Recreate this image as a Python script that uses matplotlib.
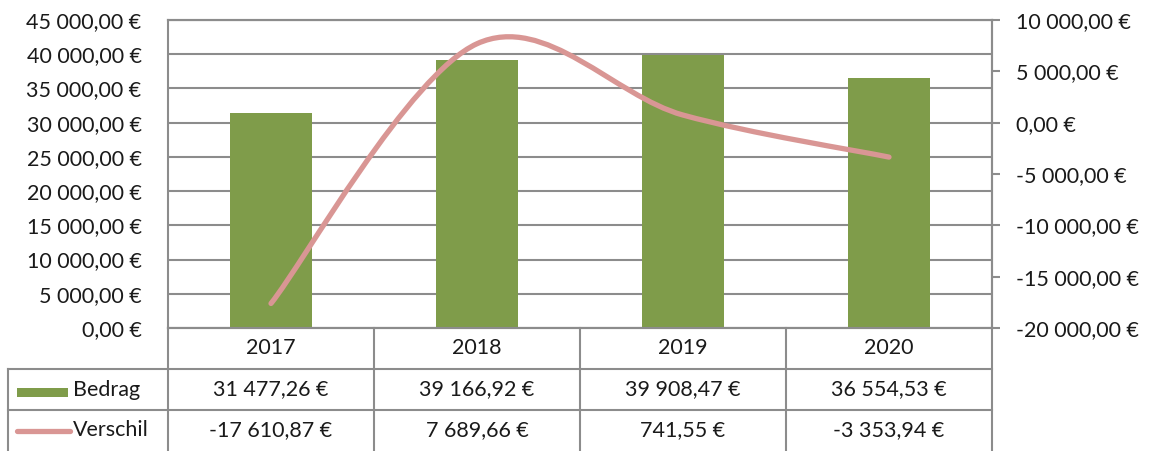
import matplotlib
matplotlib.use("Agg")
import matplotlib.pyplot as plt
from matplotlib.path import Path
from matplotlib.patches import PathPatch, Rectangle
from matplotlib.lines import Line2D
from matplotlib.ticker import FuncFormatter, MultipleLocator
from matplotlib.transforms import blended_transform_factory

# ---------- data ----------
years = ["2017", "2018", "2019", "2020"]
bedrag = [31477.26, 39166.92, 39908.47, 36554.53]
verschil = [-17610.87, 7689.66, 741.55, -3353.94]
row_labels = ["Bedrag", "Verschil"]

# ---------- style ----------
W, H = 1164, 451
GREEN = "#7f9c4a"
PINK = "#d99694"
GRID = "#8c8c8c"
TXT = "#1a1a1a"
FS = 15.5
plt.rcParams["font.family"] = ["Lato", "DejaVu Sans"]


def euro(v, pos=None):
    # 31477.26 -> "31 477,26 €"
    s = "{:,.2f}".format(abs(v)).replace(",", " ").replace(".", ",")
    return ("-" if v < 0 else "") + s + " €"


def fx(px):
    return px / W


def fy(py):
    return 1 - py / H


fig = plt.figure(figsize=(W / 100, H / 100), dpi=100)
ax = fig.add_axes([fx(168), fy(328), fx(992 - 168), (328 - 20) / H])
ax2 = ax.twinx()

x = list(range(len(years)))

# bars on the left axis
ax.bar(x, bedrag, width=0.4, color=GREEN, zorder=2)
ax.set_xlim(-0.5, len(years) - 0.5)
ax.set_ylim(0, 45000)
ax.yaxis.set_major_locator(MultipleLocator(5000))
ax.yaxis.set_major_formatter(FuncFormatter(euro))
ax.grid(axis="y", color=GRID, linewidth=1.5)
ax.set_axisbelow(True)
ax.set_xticks([])
ax.tick_params(axis="y", length=0, pad=19, labelsize=FS, labelcolor=TXT)

# smoothed line on the right axis (Excel style bezier through the points)
ax2.set_ylim(-20000, 10000)
ax2.yaxis.set_major_locator(MultipleLocator(5000))
ax2.yaxis.set_major_formatter(FuncFormatter(euro))
ax2.tick_params(axis="y", length=5.5, width=1.5, color=GRID, pad=12,
                labelsize=FS, labelcolor=TXT)
pts = list(zip(x, verschil))
verts = [pts[0]]
codes = [Path.MOVETO]
for i in range(len(pts) - 1):
    p0 = pts[max(i - 1, 0)]
    p1 = pts[i]
    p2 = pts[i + 1]
    p3 = pts[min(i + 2, len(pts) - 1)]
    c1 = (p1[0] + (p2[0] - p0[0]) / 6, p1[1] + (p2[1] - p0[1]) / 6)
    c2 = (p2[0] - (p3[0] - p1[0]) / 6, p2[1] - (p3[1] - p1[1]) / 6)
    verts += [c1, c2, p2]
    codes += [Path.CURVE4] * 3
ax2.add_patch(PathPatch(Path(verts, codes), facecolor="none", edgecolor=PINK,
                        linewidth=3.8, capstyle="round", zorder=3))

for a in (ax, ax2):
    for side, sp in a.spines.items():
        sp.set_color(GRID)
        sp.set_linewidth(1.5)
ax2.spines["left"].set_visible(False)

# ---------- data table ----------
colx = blended_transform_factory(ax.transData, fig.transFigure)
rows_y = [328, 369, 410, 451]
table_left = 8


def fline(x0, y0, x1, y1):
    fig.add_artist(Line2D([fx(x0), fx(x1)], [fy(y0), fy(y1)], color=GRID,
                          linewidth=1.5, transform=fig.transFigure))


for yy in rows_y[1:3]:
    fline(table_left, yy, 992, yy)
fline(table_left, rows_y[1], table_left, rows_y[3])
for i in range(len(years) + 1):
    fig.add_artist(Line2D([i - 0.5, i - 0.5], [fy(rows_y[0]), fy(rows_y[3])],
                          color=GRID, linewidth=1.5, transform=colx))

for i, yr in enumerate(years):
    fig.text(i, fy((rows_y[0] + rows_y[1]) / 2), yr, transform=colx,
             ha="center", va="center", fontsize=FS, color=TXT)
    fig.text(i, fy((rows_y[1] + rows_y[2]) / 2), euro(bedrag[i]),
             transform=colx, ha="center", va="center", fontsize=FS, color=TXT)
    fig.text(i, fy((rows_y[2] + rows_y[3]) / 2), euro(verschil[i]),
             transform=colx, ha="center", va="center", fontsize=FS, color=TXT)

# legend keys in the label column
fig.add_artist(Rectangle((fx(17), fy(397)), fx(68 - 17), (397 - 388) / H,
                         facecolor=GREEN, edgecolor="none",
                         transform=fig.transFigure))
fig.add_artist(Line2D([fx(17), fx(70)], [fy(431), fy(431)], color=PINK,
                      linewidth=3.8, solid_capstyle="round",
                      transform=fig.transFigure))
lab_clip = Rectangle((fx(table_left), fy(451)), fx(167 - table_left),
                     (451 - 369) / H, transform=fig.transFigure)
for j, lab in enumerate(row_labels):
    t = fig.text(fx(73), fy((rows_y[j + 1] + rows_y[j + 2]) / 2), lab,
                 ha="left", va="center", fontsize=FS, color=TXT)
    t.set_clip_path(lab_clip)

fig.savefig("out.png", dpi=100)
